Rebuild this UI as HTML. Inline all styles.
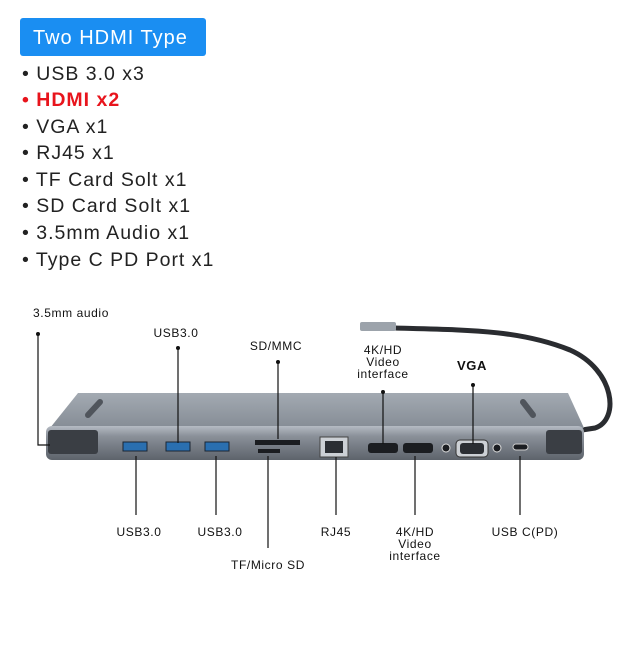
<!DOCTYPE html>
<html><head><meta charset="utf-8"><style>
body{margin:0;width:640px;height:640px;background:#fff;overflow:hidden;font-family:"Liberation Sans",sans-serif}
</style></head><body>
<svg width="640" height="640" viewBox="0 0 640 640" xmlns="http://www.w3.org/2000/svg" font-family="Liberation Sans, sans-serif">
<defs>
<linearGradient id="top" x1="0" y1="0" x2="0" y2="1"><stop offset="0" stop-color="#a3aab2"/><stop offset="1" stop-color="#858c95"/></linearGradient>
<linearGradient id="front" x1="0" y1="0" x2="0" y2="1"><stop offset="0" stop-color="#b5bbc3"/><stop offset="0.3" stop-color="#8a9099"/><stop offset="1" stop-color="#5d636b"/></linearGradient>
</defs>
<rect x="20" y="18" width="186" height="38" rx="3" fill="#1a8ef2"/>
<text x="33" y="44" font-size="20" fill="#fff" letter-spacing="1">Two HDMI Type</text>
<g font-size="19.5" fill="#222" letter-spacing="1">
<text x="22" y="80">• USB 3.0 x3</text>
<text x="22" y="106" fill="#e8141c" font-weight="bold">• HDMI x2</text>
<text x="22" y="133">• VGA x1</text>
<text x="22" y="159">• RJ45 x1</text>
<text x="22" y="186">• TF Card Solt x1</text>
<text x="22" y="212">• SD Card Solt x1</text>
<text x="22" y="239">• 3.5mm Audio x1</text>
<text x="22" y="266">• Type C PD Port x1</text>
</g>
<path d="M395 328 C470 330 520 330 570 350 C615 370 620 420 595 428 L582 430" stroke="#2a2c30" stroke-width="5" fill="none"/>
<rect x="360" y="322" width="36" height="9" rx="2" fill="#9ca3ab"/>
<polygon points="78,393 568,393 584,428 50,428" fill="url(#top)"/>
<rect x="46" y="426" width="538" height="34" rx="6" fill="url(#front)"/>
<rect x="48" y="430" width="50" height="24" rx="3" fill="#3a3e44"/>
<rect x="546" y="430" width="36" height="24" rx="3" fill="#3a3e44"/>
<line x1="88" y1="415" x2="100" y2="402" stroke="#50555c" stroke-width="6" stroke-linecap="round"/>
<line x1="523" y1="402" x2="533" y2="415" stroke="#50555c" stroke-width="6" stroke-linecap="round"/>
<g fill="#2a6fb0" stroke="#1b2633" stroke-width="1"><rect x="123" y="442" width="24" height="9"/><rect x="166" y="442" width="24" height="9"/><rect x="205" y="442" width="24" height="9"/></g>
<rect x="255" y="440" width="45" height="5" fill="#1b1d21"/><rect x="258" y="449" width="22" height="4" fill="#1b1d21"/>
<rect x="320" y="437" width="28" height="20" fill="#ccd0d5" stroke="#444"/><rect x="325" y="441" width="18" height="12" fill="#2b2e33"/>
<rect x="368" y="443" width="30" height="10" rx="3" fill="#1b1d21"/><rect x="403" y="443" width="30" height="10" rx="3" fill="#1b1d21"/>
<circle cx="446" cy="448" r="4" fill="#1b1d21" stroke="#ddd"/><rect x="456" y="440" width="32" height="17" rx="4" fill="#ccd0d5" stroke="#333"/><rect x="460" y="443" width="24" height="11" rx="3" fill="#2b2e33"/><circle cx="497" cy="448" r="4" fill="#1b1d21" stroke="#ddd"/>
<rect x="513" y="444" width="15" height="6" rx="3" fill="#1b1d21" stroke="#ccc"/>
<g stroke="#111" stroke-width="1.2" fill="none">
<polyline points="38,334 38,445 50,445"/>
<line x1="178" y1="348" x2="178" y2="443"/>
<line x1="278" y1="362" x2="278" y2="439"/>
<line x1="383" y1="392" x2="383" y2="444"/>
<line x1="473" y1="385" x2="473" y2="444"/>
<line x1="136" y1="456" x2="136" y2="515"/>
<line x1="216" y1="456" x2="216" y2="515"/>
<line x1="268" y1="456" x2="268" y2="548"/>
<line x1="336" y1="457" x2="336" y2="515"/>
<line x1="415" y1="456" x2="415" y2="515"/>
<line x1="520" y1="456" x2="520" y2="515"/>
</g>
<g fill="#111"><circle cx="38" cy="334" r="2"/><circle cx="178" cy="348" r="2"/><circle cx="278" cy="362" r="2"/><circle cx="383" cy="392" r="2"/><circle cx="473" cy="385" r="2"/></g>
<g font-size="12" fill="#111" text-anchor="middle" letter-spacing="0.6">
<text x="71" y="317">3.5mm audio</text>
<text x="176" y="337">USB3.0</text>
<text x="276" y="350">SD/MMC</text>
<text x="383" y="354">4K/HD</text><text x="383" y="366">Video</text><text x="383" y="378">interface</text>
<text x="472" y="370" font-weight="bold" font-size="13">VGA</text>
<text x="139" y="536">USB3.0</text>
<text x="220" y="536">USB3.0</text>
<text x="268" y="569">TF/Micro SD</text>
<text x="336" y="536">RJ45</text>
<text x="415" y="536">4K/HD</text><text x="415" y="548">Video</text><text x="415" y="560">interface</text>
<text x="525" y="536">USB C(PD)</text>
</g>
</svg>
</body></html>
